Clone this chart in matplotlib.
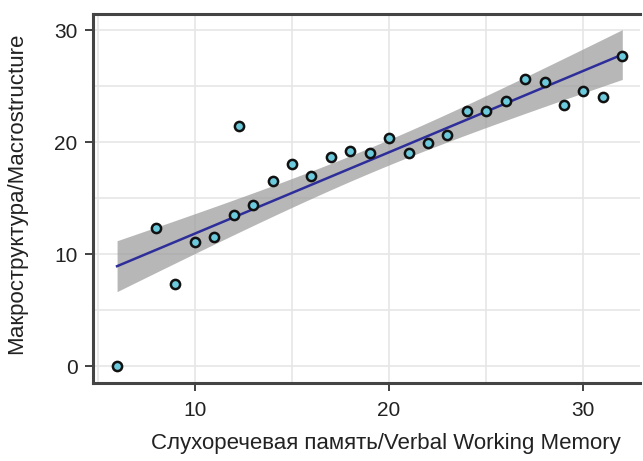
import numpy as np
import matplotlib.pyplot as plt
from matplotlib.ticker import MultipleLocator

plt.rcParams['font.family'] = ['Liberation Sans', 'DejaVu Sans']

# verbal working memory scores and macrostructure scores
memory = [6, 8, 9, 10, 11, 12, 12.3, 13, 14, 15, 16, 17, 18, 19, 20, 21, 22, 23,
          24, 25, 26, 27, 28, 29, 30, 31, 32]
macro = [0.0, 12.3, 7.3, 11.1, 11.5, 13.5, 21.4, 14.4, 16.5, 18.0, 17.0, 18.7, 19.2,
         19.0, 20.4, 19.0, 19.9, 20.6, 22.8, 22.8, 23.7, 25.6, 25.4, 23.3, 24.6, 24.0, 27.7]


def main():
    x = np.array(memory)
    y = np.array(macro)
    n = len(x)

    # linear fit and 95% confidence band
    b, a = np.polyfit(x, y, 1)
    xs = np.linspace(x.min(), x.max(), 200)
    ys = a + b * xs
    resid = y - (a + b * x)
    s = np.sqrt(np.sum(resid ** 2) / (n - 2))
    se = s * np.sqrt(1 / n + (xs - x.mean()) ** 2 / np.sum((x - x.mean()) ** 2))
    t = 2.06

    fig = plt.figure(figsize=(6.43, 4.61), dpi=100)
    ax = fig.add_axes([0.1446, 0.169, 0.8504, 0.8006])

    ax.fill_between(xs, ys - t * se, ys + t * se, color='#999999', alpha=0.7,
                    linewidth=0, zorder=2)
    ax.plot(xs, ys, color='#2e2e9a', linewidth=1.8, zorder=3)
    ax.scatter(x, y, s=44, facecolor='#6ccadd', edgecolor='#111111',
               linewidth=1.8, zorder=4)

    ax.set_xlim(4.76, 32.9)
    ax.set_ylim(-1.52, 31.43)
    ax.xaxis.set_major_locator(MultipleLocator(10))
    ax.yaxis.set_major_locator(MultipleLocator(10))
    ax.xaxis.set_minor_locator(MultipleLocator(5))
    ax.yaxis.set_minor_locator(MultipleLocator(5))
    ax.grid(True, which='both', color='#e6e6e6', linewidth=1.2, zorder=0)
    ax.set_axisbelow(True)
    ax.tick_params(which='minor', length=0)
    ax.tick_params(which='major', length=6, width=1.3, color='#333333',
                   labelsize=15, labelcolor='#222222')
    ax.tick_params(axis='x', pad=7)
    ax.tick_params(axis='y', pad=5)

    for side in ['left', 'top', 'bottom']:
        ax.spines[side].set_linewidth(2.2)
        ax.spines[side].set_color('#444444')
    ax.spines['right'].set_visible(False)

    ax.set_xlabel('Слухоречевая память/Verbal Working Memory', fontsize=16,
                  color='#222222')
    ax.set_ylabel('Макроструктура/Macrostructure', fontsize=16,
                  color='#222222')
    # the source figure was cropped on the right, labels sit off-centre
    ax.xaxis.set_label_coords(0.536, -0.135)
    ax.yaxis.set_label_coords(-0.12, 0.513)

    fig.savefig('out.png', dpi=100)


if __name__ == '__main__':
    main()
